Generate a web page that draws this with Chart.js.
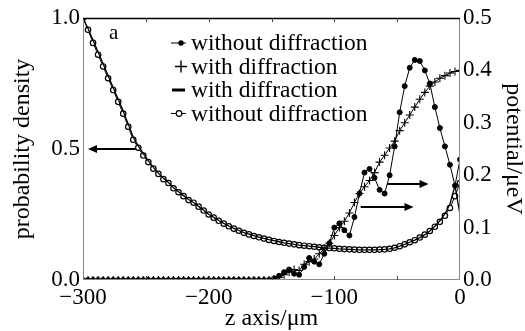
<!DOCTYPE html>
<html lang="en">
<head>
  <meta charset="UTF-8" />
  <title>Probability density and potential</title>
  <script src="https://cdn.jsdelivr.net/npm/chart.js"></script>
  <style>
    body { margin: 0; background: white; }
    #wrap { width: 525px; height: 331px; }
  </style>
</head>
<body>
  <div id="wrap"><canvas id="chart"></canvas></div>
  <script>
    // z positions (um), one value every 4 um
    const zPositions = [
      -300, -296, -292, -288, -284, -280, -276, -272, -268, -264,
      -260, -256, -252, -248, -244, -240, -236, -232, -228, -224,
      -220, -216, -212, -208, -204, -200, -196, -192, -188, -184,
      -180, -176, -172, -168, -164, -160, -156, -152, -148, -144,
      -140, -136, -132, -128, -124, -120, -116, -112, -108, -104,
      -100, -96, -92, -88, -84, -80, -76, -72, -68, -64,
      -60, -56, -52, -48, -44, -40, -36, -32, -28, -24,
      -20, -16, -12, -8, -4, 0
    ];

    // potential (ueV), right axis
    const potentialWithout = [
      0, 0, 0, 0, 0, 0, 0, 0, 0, 0,
      0, 0, 0, 0, 0, 0, 0, 0, 0, 0,
      0, 0, 0, 0, 0, 0, 0, 0, 0, 0,
      0, 0, 0, 0, 0, 0, 0, 0, 0.003, 0.008,
      0.015, 0.02, 0.012, 0.01, 0.025, 0.042, 0.035, 0.03, 0.05, 0.07,
      0.1, 0.108, 0.095, 0.085, 0.12, 0.165, 0.205, 0.212, 0.195, 0.172,
      0.165, 0.2, 0.255, 0.32, 0.37, 0.405, 0.42, 0.418, 0.4, 0.375,
      0.33, 0.29, 0.255, 0.22, 0.18, 0.23
    ];
    const potentialWith = [
      0, 0, 0, 0, 0, 0, 0, 0, 0, 0,
      0, 0, 0, 0, 0, 0, 0, 0, 0, 0,
      0, 0, 0, 0, 0, 0, 0, 0, 0, 0,
      0, 0, 0, 0, 0, 0, 0, 0, 0.002, 0.005,
      0.01, 0.015, 0.02, 0.018, 0.03, 0.035, 0.04, 0.05, 0.06, 0.07,
      0.085, 0.1, 0.112, 0.128, 0.148, 0.165, 0.178, 0.19, 0.205, 0.225,
      0.238, 0.252, 0.265, 0.285, 0.3, 0.315, 0.33, 0.345, 0.358, 0.37,
      0.378, 0.385, 0.39, 0.395, 0.398, 0.4
    ];

    // probability density, left axis
    const densityWith = [
      1.0, 0.96, 0.915, 0.87, 0.825, 0.78, 0.735, 0.69, 0.645, 0.595,
      0.545, 0.512, 0.482, 0.455, 0.43, 0.408, 0.388, 0.372, 0.352, 0.337,
      0.322, 0.307, 0.296, 0.281, 0.266, 0.251, 0.239, 0.227, 0.216, 0.206,
      0.197, 0.189, 0.181, 0.175, 0.169, 0.164, 0.159, 0.154, 0.15, 0.146,
      0.142, 0.139, 0.136, 0.133, 0.131, 0.129, 0.127, 0.125, 0.123, 0.122,
      0.121, 0.119, 0.118, 0.117, 0.116, 0.115, 0.115, 0.115, 0.115, 0.116,
      0.117, 0.119, 0.123, 0.129, 0.136, 0.144, 0.152, 0.162, 0.173, 0.187,
      0.205, 0.226, 0.252, 0.29, 0.36, 0.25
    ];
    const densityWithout = [
      1.0, 0.955, 0.905, 0.86, 0.815, 0.77, 0.725, 0.68, 0.635, 0.585,
      0.535, 0.505, 0.475, 0.45, 0.425, 0.405, 0.385, 0.37, 0.35, 0.335,
      0.32, 0.305, 0.295, 0.28, 0.265, 0.25, 0.238, 0.226, 0.215, 0.205,
      0.196, 0.188, 0.18, 0.174, 0.168, 0.163, 0.158, 0.153, 0.149, 0.145,
      0.142, 0.139, 0.136, 0.133, 0.131, 0.129, 0.127, 0.125, 0.123, 0.122,
      0.121, 0.119, 0.118, 0.117, 0.116, 0.115, 0.115, 0.115, 0.115, 0.116,
      0.117, 0.119, 0.123, 0.129, 0.136, 0.144, 0.152, 0.162, 0.173, 0.187,
      0.203, 0.222, 0.245, 0.275, 0.32, 0.37
    ];

    const legendLabels = ["without diffraction", "with diffraction", "with diffraction", "without diffraction"];
    const legendStyles = ["circle", "cross", "dash", "openCircle"];

    // arrows in data units: [zFrom, zTo, value, axis]
    const arrows = [
      [-258, -296, 0.5, "y"],
      [-58, -25, 0.183, "y2"],
      [-79, -37, 0.139, "y2"]
    ];

    const serif = "'Liberation Serif', 'DejaVu Serif', serif";
    Chart.defaults.font.family = serif;
    Chart.defaults.color = "#000";

    const minus = v => (v < 0 ? "\u2212" + Math.abs(v) : String(v));

    const toXY = arr => arr.map((v, i) => ({ x: zPositions[i], y: v }));

    const extras = {
      id: "extras",
      afterDatasetsDraw(chart) {
        const { ctx, chartArea: a, scales } = chart;
        ctx.save();
        // frame
        ctx.lineWidth = 1;
        ctx.strokeStyle = "#888";
        ctx.beginPath();
        ctx.moveTo(a.left + 0.5, a.top); ctx.lineTo(a.left + 0.5, a.bottom);
        ctx.moveTo(a.right - 0.5, a.top); ctx.lineTo(a.right - 0.5, a.bottom);
        ctx.moveTo(a.left, a.bottom - 0.5); ctx.lineTo(a.right, a.bottom - 0.5);
        ctx.stroke();
        ctx.strokeStyle = "#000";
        ctx.lineWidth = 1.5;
        ctx.beginPath();
        ctx.moveTo(a.left, a.top + 0.5); ctx.lineTo(a.right, a.top + 0.5);
        ctx.stroke();
        // small inward ticks every 50 um
        ctx.lineWidth = 1;
        ctx.strokeStyle = "#444";
        ctx.beginPath();
        for (let z = -250; z < 0; z += 50) {
          const px = Math.round(scales.x.getPixelForValue(z)) + 0.5;
          ctx.moveTo(px, a.top); ctx.lineTo(px, a.top + 4);
          ctx.moveTo(px, a.bottom); ctx.lineTo(px, a.bottom - 4);
        }
        ctx.stroke();

        // arrows
        ctx.strokeStyle = "#000";
        ctx.fillStyle = "#000";
        ctx.lineWidth = 2;
        arrows.forEach(([z0, z1, v, axis]) => {
          const x0 = scales.x.getPixelForValue(z0);
          const x1 = scales.x.getPixelForValue(z1);
          const y = Math.round(scales[axis].getPixelForValue(v));
          const dir = Math.sign(x1 - x0);
          ctx.beginPath();
          ctx.moveTo(x0, y); ctx.lineTo(x1 - dir * 6, y);
          ctx.stroke();
          ctx.beginPath();
          ctx.moveTo(x1, y);
          ctx.lineTo(x1 - dir * 9, y - 4);
          ctx.lineTo(x1 - dir * 9, y + 4);
          ctx.closePath();
          ctx.fill();
        });

        // panel letter
        ctx.font = "21px " + serif;
        ctx.textBaseline = "middle";
        ctx.fillText("a", a.left + 26, a.top + 15);

        // legend
        ctx.font = "23.5px " + serif;
        legendLabels.forEach((label, i) => {
          const y = 43 + i * 23.5;
          const style = legendStyles[i];
          ctx.lineWidth = 1;
          ctx.strokeStyle = "#000";
          ctx.fillStyle = "#000";
          if (style === "circle") {
            ctx.beginPath(); ctx.moveTo(171, y); ctx.lineTo(186, y); ctx.stroke();
            ctx.beginPath(); ctx.arc(181, y, 2.7, 0, Math.PI * 2); ctx.fill();
          } else if (style === "cross") {
            ctx.lineWidth = 1.4;
            ctx.beginPath();
            ctx.moveTo(175, y); ctx.lineTo(187, y);
            ctx.moveTo(181, y - 6); ctx.lineTo(181, y + 6);
            ctx.stroke();
          } else if (style === "dash") {
            ctx.lineWidth = 3;
            ctx.beginPath(); ctx.moveTo(172, y); ctx.lineTo(185, y); ctx.stroke();
          } else {
            ctx.beginPath(); ctx.moveTo(171, y); ctx.lineTo(186, y); ctx.stroke();
            ctx.lineWidth = 1.2;
            ctx.beginPath(); ctx.arc(179, y, 2.8, 0, Math.PI * 2);
            ctx.fillStyle = "#fff"; ctx.fill(); ctx.stroke();
            ctx.fillStyle = "#000";
          }
          ctx.fillText(label, 191, y + 1);
        });
        ctx.restore();
      }
    };

    new Chart(document.getElementById("chart"), {
      type: "line",
      data: {
        datasets: [
          {
            label: legendLabels[0],
            data: toXY(potentialWithout),
            yAxisID: "y2",
            borderColor: "#000",
            borderWidth: 1,
            pointStyle: "circle",
            pointRadius: 2.5,
            pointBackgroundColor: "#000",
            pointBorderWidth: 1
          },
          {
            label: legendLabels[1],
            data: toXY(potentialWith),
            yAxisID: "y2",
            borderColor: "#000",
            borderWidth: 1,
            pointStyle: "cross",
            pointRadius: 4,
            pointBorderWidth: 1.1
          },
          {
            label: legendLabels[2],
            data: toXY(densityWith),
            yAxisID: "y",
            borderColor: "#000",
            borderWidth: 1.3,
            pointRadius: 0
          },
          {
            label: legendLabels[3],
            data: toXY(densityWithout),
            yAxisID: "y",
            borderColor: "#000",
            borderWidth: 1,
            pointStyle: "circle",
            pointRadius: 2.7,
            pointBackgroundColor: "#fff",
            pointBorderWidth: 1.2
          }
        ]
      },
      options: {
        responsive: true,
        maintainAspectRatio: false,
        animation: false,
        layout: { padding: { top: 18 } },
        plugins: {
          legend: { display: false },
          tooltip: { enabled: false }
        },
        scales: {
          x: {
            type: "linear",
            min: -300,
            max: 0,
            grid: { display: false, drawTicks: false },
            border: { display: false },
            afterFit: s => { s.height = 51; },
            ticks: {
              stepSize: 100,
              padding: 4,
              font: { size: 23 },
              callback: v => minus(v)
            },
            title: {
              display: true,
              text: "z axis/\u03bcm",
              font: { size: 24, lineHeight: 1 },
              padding: 0
            }
          },
          y: {
            position: "left",
            min: 0,
            max: 1,
            grid: { display: false, drawTicks: false },
            border: { display: false },
            afterFit: s => { s.width = 83; },
            ticks: {
              stepSize: 0.5,
              padding: 3,
              font: { size: 23 },
              callback: v => v.toFixed(1)
            },
            title: {
              display: true,
              text: "probability density",
              font: { size: 24, lineHeight: 1 },
              padding: { top: 11, bottom: 0 }
            }
          },
          y2: {
            position: "right",
            min: 0,
            max: 0.5,
            grid: { display: false, drawTicks: false },
            border: { display: false },
            afterFit: s => { s.width = 65; },
            ticks: {
              stepSize: 0.1,
              padding: 3,
              font: { size: 23 },
              callback: v => v.toFixed(1)
            },
            title: {
              display: true,
              text: "potential/\u03bceV",
              font: { size: 24, lineHeight: 1 },
              padding: 0
            }
          }
        }
      },
      plugins: [extras]
    });
  </script>
</body>
</html>
